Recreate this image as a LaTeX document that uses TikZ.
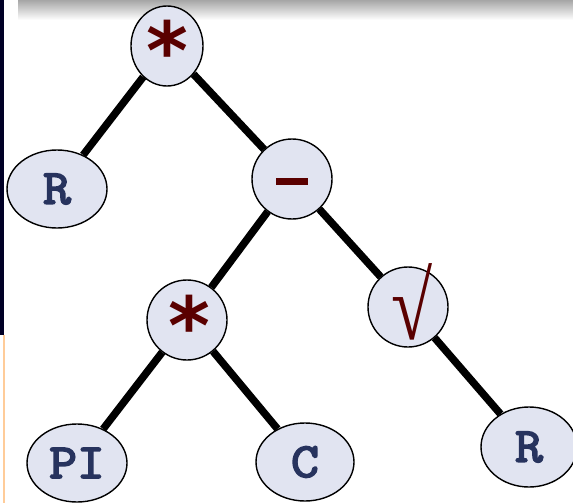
\documentclass[tikz,border=0pt]{standalone}
\usepackage{fontspec}
\usetikzlibrary{shapes.geometric}
\newfontfamily\opfont{DejaVu Sans}
\newfontfamily\serf{Liberation Serif}
\newfontfamily\leaffont{Latin Modern Mono}[FakeBold=3.5]
\definecolor{nodefill}{HTML}{E1E4F1}
\definecolor{opred}{HTML}{5A0000}
\definecolor{leafblue}{HTML}{27335E}
\newcommand{\leaftxt}[1]{\scalebox{1.1}[1]{#1}}
\begin{document}
\begin{tikzpicture}[x=1pt,y=-1pt,
  tnode/.style={ellipse, draw=black, line width=1.4pt, fill=nodefill, inner sep=0pt},
  opnode/.style={tnode},
  leaf/.style={tnode, text=leafblue, font=\leaffont\fontsize{49}{49}\selectfont},
  aster/.style={text=opred, font=\opfont\bfseries\fontsize{80}{80}\selectfont, inner sep=0pt, anchor=base},
  edge/.style={line width=7.5pt, black}]
\useasboundingbox (0,0) rectangle (573,503);
\fill[white] (0,0) rectangle (573,503);
\shade[top color=black!35, bottom color=white] (18,0) rectangle (573,20);
\fill[black!85!blue] (0,0) rectangle (4,335);
\fill[orange!40] (3,335) rectangle (5,503);
% nodes
\node[opnode, minimum width=72pt, minimum height=80pt] (t) at (167,46) {};
\node[leaf, minimum width=100pt, minimum height=78pt] (r1) at (57,189) {\leaftxt{R}};
\node[opnode, minimum width=80pt, minimum height=80pt] (m) at (292,179) {};
\node[opnode, minimum width=80pt, minimum height=80pt] (s) at (187,320) {};
\node[opnode, minimum width=80pt, minimum height=80pt] (q) at (408,307) {};
\node[leaf, minimum width=100pt, minimum height=78pt] (pi) at (77,463) {\leaftxt{PI}};
\node[leaf, minimum width=98pt, minimum height=78pt] (c) at (305,462) {\leaftxt{C}};
\node[leaf, minimum width=96pt, minimum height=80pt] (r2) at (529,447) {\leaftxt{R}};
% edges
\draw[edge] (t) -- (r1);
\draw[edge] (t) -- (m);
\draw[edge] (m) -- (s);
\draw[edge] (m) -- (q);
\draw[edge] (s) -- (pi);
\draw[edge] (s) -- (c);
\draw[edge] (q) -- (r2);
% operator symbols
\node[aster] (ta) at (167,80) {*};
\node[aster] (sa) at (189,354) {*};
\node[fill=opred, minimum width=32pt, minimum height=7pt, inner sep=0pt] (mb) at (292,181) {};
\node[text=opred, font=\serf\fontsize{96}{96}\selectfont, inner sep=0pt, xscale=0.78, transform shape] (qs) at (412,302) {√};
\end{tikzpicture}
\end{document}
